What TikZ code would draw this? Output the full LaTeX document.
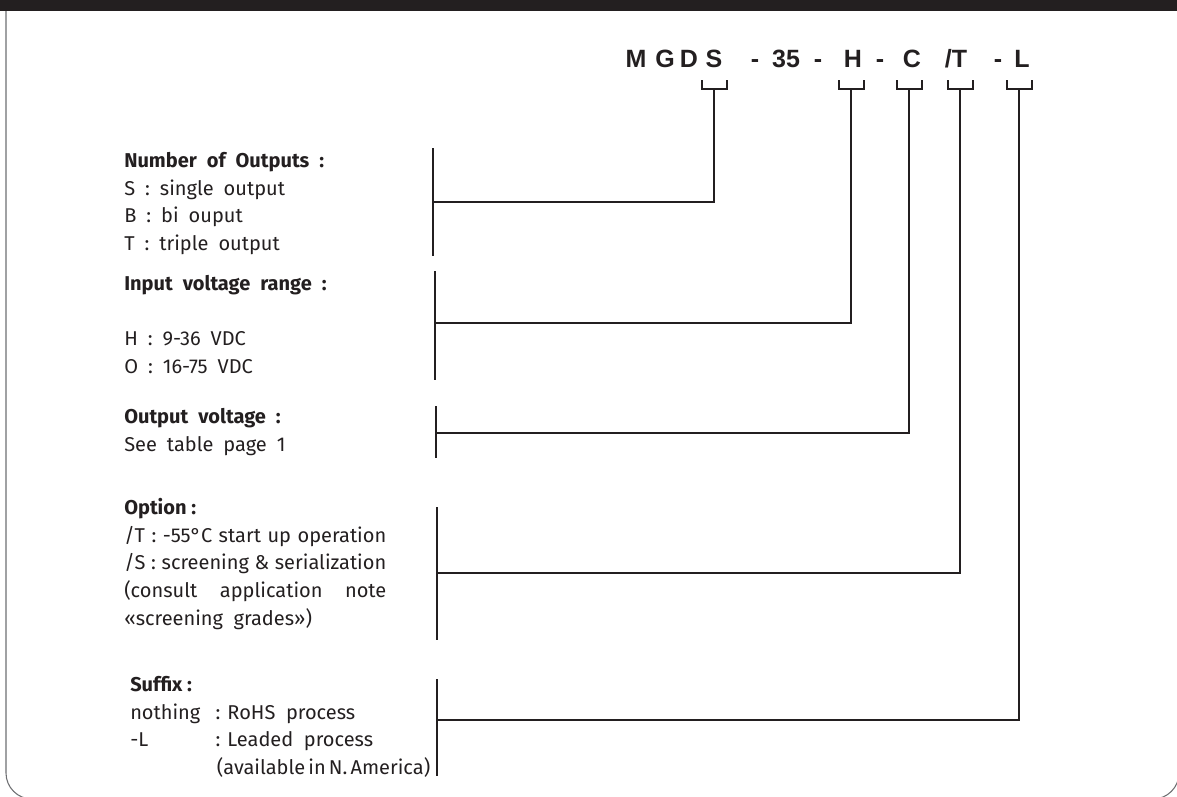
\documentclass[tikz,border=0pt]{standalone}
\usepackage{fontspec}
\setmainfont{Fira Sans}
\newfontfamily\codefont{Liberation Sans}
\usetikzlibrary{positioning}
\definecolor{ink}{HTML}{231F20}
\definecolor{edge}{HTML}{6D6E71}
\newcommand\widespace{\spaceskip=7.5pt plus 1pt minus 1pt\relax}
\newcommand\tightspace{\spaceskip=2.4pt\relax}
\tikzset{
  code/.style ={anchor=base, inner sep=0pt, text=ink, font=\codefont\bfseries\fontsize{18.75}{20}\selectfont},
  blk/.style  ={anchor=north west, inner sep=0pt, align=left, text=ink, font=\fontsize{15}{20.8}\selectfont},
  wide/.style ={font=\fontsize{15}{20.8}\selectfont\widespace},
  just/.style ={text width=196.5pt, align=justify},
  bar/.style  ={draw=ink, line width=1.5pt},
  lead/.style ={draw=ink, line width=1.5pt},
  brk/.style  ={draw=ink, line width=1.5pt}
}
\begin{document}
\begin{tikzpicture}[x=0.75pt,y=-0.75pt]
\useasboundingbox (0,0) rectangle (1177,796);
% frame and top band
\fill[ink] (0,0) rectangle (1177,11);
\draw[edge, line width=0.8pt, rounded corners=19.5pt] (6,11) |- (1179,799) -- (1179,11);

% part number
\node[code] (cM)  at (636,67) {M};
\node[code] (cG)  at (665,67) {G};
\node[code] (cD)  at (689,67) {D};
\node[code] (cS)  at (714,67) {S};
\node[code] (d1)  at (755,67) {-};
\node[code] (c35) at (786,67) {35};
\node[code] (d2)  at (818,67) {-};
\node[code] (cH)  at (853,67) {H};
\node[code] (d3)  at (880,67) {-};
\node[code] (cC)  at (912,67) {C};
\node[code] (cT)  at (956,67) {/T};
\node[code] (d4)  at (998,67) {-};
\node[code] (cL)  at (1022,67) {L};

% brackets under the letters
\coordinate (tS) at (714,80);
\coordinate (tH) at (851,80);
\coordinate (tC) at (909,80);
\coordinate (tT) at (960,80);
\coordinate (tL) at (1019,80);
\draw[brk] (tS) ++(-12.5,0) -- ++(0,9) -- ++(25,0) -- ++(0,-9);
\draw[brk] (tH) ++(-12.5,0) -- ++(0,9) -- ++(25,0) -- ++(0,-9);
\draw[brk] (tC) ++(-12.5,0) -- ++(0,9) -- ++(25,0) -- ++(0,-9);
\draw[brk] (tT) ++(-12.5,0) -- ++(0,9) -- ++(25,0) -- ++(0,-9);
\draw[brk] (tL) ++(-12.5,0) -- ++(0,9) -- ++(25,0) -- ++(0,-9);
\coordinate (sS) at (714,89);
\coordinate (sH) at (851,89);
\coordinate (sC) at (909,89);
\coordinate (sT) at (960,89);
\coordinate (sL) at (1019,89);

% descriptions
\node[blk, wide] (outputs) at (124,152) {\textbf{Number of Outputs :}\\S : single output\\B : bi ouput\\T : triple output};
\node[blk, wide] (input)   at (124,275) {\textbf{Input voltage range :}\\[20.8pt]H : 9-36 VDC\\O : 16-75 VDC};
\node[blk, wide] (voltage) at (124,408) {\textbf{Output voltage :}\\See table page 1};
\node[blk, just] (option)  at (124,498) {\textbf{Option :}\\/T : -55°C start up operation\linebreak /S : screening \& serialization\linebreak (consult application note\linebreak «screening\ \ grades»)};
\node[blk] (suffix)  at (130,676) {\textbf{Suffix :}\\\makebox[64pt][l]{nothing}: RoHS\ \ process\\\makebox[64pt][l]{-L}: Leaded\ \ process\\\hspace*{65pt}{\tightspace(available in N. America)}};

% side bars
\draw[bar] (433,148) -- (433,256);
\draw[bar] (435,271) -- (435,380);
\draw[bar] (436,406) -- (436,458);
\draw[bar] (437,507) -- (437,640);
\draw[bar] (437,679) -- (437,776);
\coordinate (jS) at (433,202);
\coordinate (jH) at (435,323);
\coordinate (jC) at (436,433);
\coordinate (jT) at (437,573);
\coordinate (jL) at (437,720);

% leaders
\draw[lead] (sS) |- (jS);
\draw[lead] (sH) |- (jH);
\draw[lead] (sC) |- (jC);
\draw[lead] (sT) |- (jT);
\draw[lead] (sL) |- (jL);
\end{tikzpicture}
\end{document}
